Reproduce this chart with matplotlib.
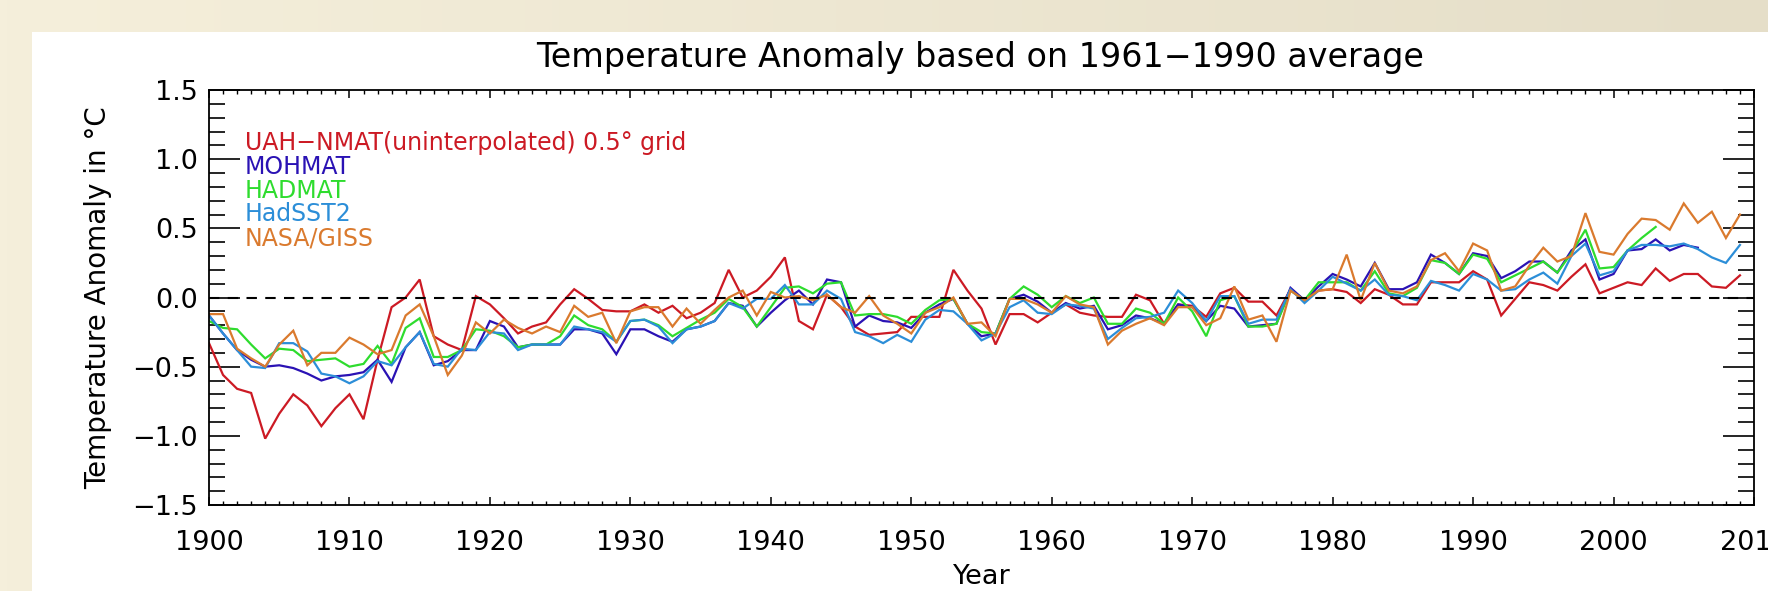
import numpy as np
import matplotlib
matplotlib.use("Agg")
import matplotlib.pyplot as plt
from matplotlib.patches import Rectangle
from matplotlib.colors import LinearSegmentedColormap
from matplotlib.ticker import MultipleLocator

# anomalies (deg C), one value per year from 1900
uah_nmat = [
    -0.33, -0.56, -0.66, -0.69, -1.02, -0.84, -0.70, -0.78, -0.93, -0.80,
    -0.70, -0.88, -0.45, -0.07, 0.00, 0.13, -0.28, -0.34, -0.38, 0.01,
    -0.05, -0.15, -0.26, -0.21, -0.18, -0.05, 0.06, -0.01, -0.09, -0.10,
    -0.10, -0.05, -0.11, -0.06, -0.15, -0.11, -0.04, 0.20, 0.00, 0.05,
    0.15, 0.29, -0.17, -0.23, 0.02, -0.07, -0.21, -0.27, -0.26, -0.25,
    -0.14, -0.14, -0.14, 0.20, 0.05, -0.08, -0.34, -0.12, -0.12, -0.18,
    -0.11, -0.05, -0.11, -0.13, -0.14, -0.14, 0.02, -0.02, -0.19, -0.05,
    -0.06, -0.14, 0.03, 0.07, -0.03, -0.03, -0.13, 0.06, -0.02, 0.05,
    0.06, 0.04, -0.04, 0.06, 0.02, -0.05, -0.05, 0.11, 0.11, 0.11,
    0.19, 0.13, -0.13, -0.01, 0.11, 0.09, 0.05, 0.15, 0.24, 0.03,
    0.07, 0.11, 0.09, 0.21, 0.12, 0.17, 0.17, 0.08, 0.07, 0.16,
]
mohmat = [
    -0.13, -0.26, -0.38, -0.45, -0.50, -0.49, -0.51, -0.55, -0.60, -0.57,
    -0.56, -0.54, -0.45, -0.61, -0.36, -0.25, -0.49, -0.46, -0.38, -0.38,
    -0.17, -0.21, -0.36, -0.34, -0.34, -0.34, -0.23, -0.23, -0.26, -0.41,
    -0.23, -0.23, -0.28, -0.32, -0.23, -0.21, -0.17, -0.04, -0.06, -0.21,
    -0.11, -0.02, 0.05, -0.05, 0.13, 0.11, -0.21, -0.13, -0.17, -0.18,
    -0.22, -0.11, -0.05, -0.01, -0.19, -0.28, -0.26, -0.01, 0.02, -0.03,
    -0.11, -0.04, -0.08, -0.06, -0.23, -0.20, -0.13, -0.15, -0.19, -0.05,
    -0.07, -0.17, -0.06, -0.08, -0.21, -0.20, -0.19, 0.07, -0.02, 0.08,
    0.17, 0.13, 0.08, 0.25, 0.06, 0.06, 0.11, 0.31, 0.25, 0.17,
    0.32, 0.30, 0.14, 0.19, 0.26, 0.26, 0.18, 0.34, 0.42, 0.13,
    0.17, 0.34, 0.35, 0.42, 0.34, 0.38, 0.36,
]
hadmat = [
    -0.17, -0.22, -0.23, -0.34, -0.44, -0.37, -0.38, -0.46, -0.45, -0.44,
    -0.50, -0.48, -0.35, -0.48, -0.22, -0.15, -0.43, -0.43, -0.38, -0.23,
    -0.24, -0.28, -0.36, -0.34, -0.34, -0.28, -0.13, -0.20, -0.23, -0.32,
    -0.17, -0.16, -0.20, -0.28, -0.22, -0.16, -0.11, -0.01, -0.07, -0.21,
    -0.07, 0.07, 0.08, 0.03, 0.10, 0.11, -0.13, -0.12, -0.12, -0.14,
    -0.19, -0.09, -0.02, -0.01, -0.19, -0.25, -0.26, -0.01, 0.08, 0.02,
    -0.07, 0.01, -0.04, 0.00, -0.19, -0.19, -0.08, -0.11, -0.19, 0.00,
    -0.10, -0.28, -0.02, 0.01, -0.21, -0.21, -0.19, 0.05, -0.02, 0.11,
    0.11, 0.11, 0.05, 0.19, 0.03, 0.01, 0.07, 0.27, 0.25, 0.17,
    0.31, 0.28, 0.11, 0.16, 0.21, 0.26, 0.18, 0.32, 0.49, 0.21,
    0.22, 0.34, 0.43, 0.51,
]
hadsst2 = [
    -0.13, -0.26, -0.38, -0.50, -0.51, -0.33, -0.33, -0.39, -0.55, -0.57,
    -0.62, -0.57, -0.46, -0.49, -0.36, -0.25, -0.48, -0.50, -0.37, -0.38,
    -0.25, -0.26, -0.38, -0.34, -0.34, -0.34, -0.21, -0.23, -0.25, -0.32,
    -0.17, -0.16, -0.21, -0.33, -0.23, -0.21, -0.17, -0.04, -0.08, -0.01,
    -0.01, 0.09, -0.05, -0.05, 0.05, -0.01, -0.25, -0.28, -0.33, -0.27,
    -0.32, -0.16, -0.09, -0.10, -0.19, -0.31, -0.26, -0.07, -0.02, -0.11,
    -0.12, -0.05, -0.06, -0.08, -0.30, -0.22, -0.15, -0.14, -0.11, 0.05,
    -0.04, -0.17, 0.01, 0.01, -0.19, -0.16, -0.16, 0.06, -0.04, 0.05,
    0.15, 0.10, 0.05, 0.13, 0.02, 0.01, -0.02, 0.12, 0.09, 0.05,
    0.17, 0.13, 0.05, 0.06, 0.13, 0.18, 0.10, 0.30, 0.39, 0.16,
    0.19, 0.34, 0.38, 0.38, 0.37, 0.39, 0.35, 0.29, 0.25, 0.38,
]
nasa_giss = [
    -0.12, -0.12, -0.37, -0.44, -0.50, -0.34, -0.24, -0.49, -0.40, -0.40,
    -0.29, -0.34, -0.41, -0.38, -0.13, -0.05, -0.28, -0.56, -0.42, -0.18,
    -0.26, -0.16, -0.22, -0.26, -0.21, -0.25, -0.06, -0.14, -0.11, -0.33,
    -0.10, -0.07, -0.07, -0.21, -0.08, -0.19, -0.09, 0.00, 0.05, -0.13,
    0.04, 0.00, 0.01, -0.02, 0.02, -0.07, -0.11, 0.01, -0.13, -0.19,
    -0.26, -0.11, -0.07, 0.00, -0.19, -0.18, -0.28, -0.01, -0.01, -0.05,
    -0.11, 0.01, -0.05, -0.07, -0.34, -0.24, -0.19, -0.15, -0.20, -0.07,
    -0.07, -0.20, -0.15, 0.08, -0.16, -0.13, -0.32, 0.05, -0.02, 0.05,
    0.06, 0.31, -0.02, 0.25, 0.05, 0.03, 0.08, 0.27, 0.32, 0.19,
    0.39, 0.34, 0.05, 0.08, 0.23, 0.36, 0.26, 0.30, 0.61, 0.33,
    0.31, 0.46, 0.57, 0.56, 0.49, 0.68, 0.54, 0.62, 0.43, 0.60,
]

series_names = ["UAH\u2212NMAT(uninterpolated) 0.5\u00b0 grid", "MOHMAT", "HADMAT",
                "HadSST2", "NASA/GISS"]
series_vals = [uah_nmat, mohmat, hadmat, hadsst2, nasa_giss]
colors = ["#CC1A24", "#2A12B4", "#2EDC2E", "#2C8ED8", "#DA7A2E"]

x_ticks = list(range(1900, 2011, 10))
y_ticks = [-1.5, -1.0, -0.5, 0.0, 0.5, 1.0, 1.5]
y_labels = [f"{v:.1f}".replace("-", "\u2212") for v in y_ticks]

W, H = 1768, 591
fig = plt.figure(figsize=(W / 100, H / 100), dpi=100)

# cream frame with a soft horizontal gradient, white panel on top
bg = fig.add_axes([0, 0, 1, 1], zorder=-10)
cmap = LinearSegmentedColormap.from_list("cream", ["#F5EFDB", "#E5DEC8"])
bg.imshow(np.linspace(0, 1, 256)[None, :], cmap=cmap, aspect="auto",
          extent=[0, 1, 0, 1])
bg.add_patch(Rectangle((32 / W, 0), 1, 1 - 32 / H, facecolor="white",
                       edgecolor="none", transform=bg.transAxes))
bg.set_xlim(0, 1)
bg.set_ylim(0, 1)
bg.axis("off")

left, right, top, bottom = 209, 1754, 90, 505
ax = fig.add_axes([left / W, 1 - bottom / H, (right - left) / W, (bottom - top) / H])
ax.set_facecolor("none")

for name, vals, c in zip(series_names, series_vals, colors):
    yrs = np.arange(1900, 1900 + len(vals))
    ax.plot(yrs, vals, color=c, lw=1.6, solid_joinstyle="miter")

ax.axhline(0, color="black", lw=1.5, ls=(0, (5, 4)))

ax.set_xlim(1900, 2010)
ax.set_ylim(-1.5, 1.5)
ax.set_xticks(x_ticks)
ax.set_yticks(y_ticks, labels=y_labels)
ax.xaxis.set_minor_locator(MultipleLocator(1))
ax.yaxis.set_minor_locator(MultipleLocator(0.1))
ax.tick_params(axis="x", which="major", direction="in", length=6, width=1.1,
               top=True, bottom=True, labelsize=19.5, pad=18)
ax.tick_params(axis="x", which="minor", direction="in", length=3, width=1.0,
               top=True, bottom=True)
ax.tick_params(axis="y", which="major", direction="in", length=22, width=1.2,
               left=True, right=True, labelsize=19.5, pad=8)
ax.tick_params(axis="y", which="minor", direction="in", length=11.5, width=1.2,
               left=True, right=True)
for s in ax.spines.values():
    s.set_linewidth(1.3)

ax.set_xlabel("Year", fontsize=19.5)
ax.xaxis.set_label_coords(0.5, -0.142)
ax.set_ylabel("Temperature Anomaly in \u00b0C", fontsize=20)
ax.yaxis.set_label_coords(-0.063, 0.5)

fig.text(980 / W, 1 - 67 / H, "Temperature Anomaly based on 1961\u22121990 average",
         ha="center", va="baseline", fontsize=24)

for i, (name, c) in enumerate(zip(series_names, colors)):
    ax.text(0.0233, (bottom - (150 + 23.8 * i)) / (bottom - top), name,
            color=c, fontsize=17, ha="left", va="baseline", transform=ax.transAxes)

fig.savefig("out.png", dpi=100)
